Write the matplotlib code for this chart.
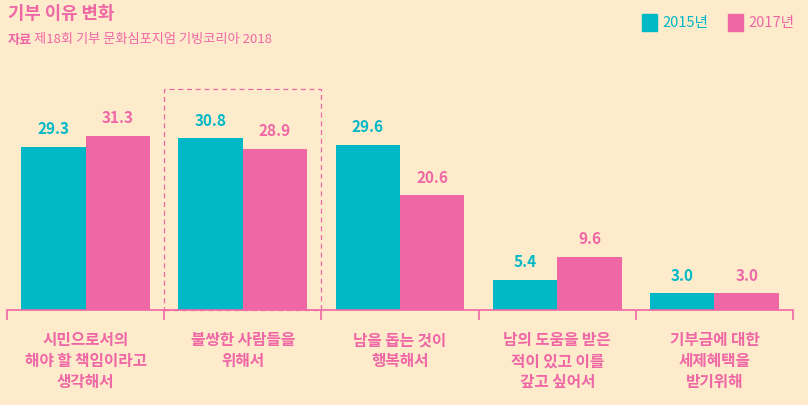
import matplotlib.pyplot as plt
import matplotlib.patches as mpatches
import numpy as np

plt.rcParams['font.family'] = ['Noto Sans CJK KR', 'DejaVu Sans']

# data
categories = ['시민으로서의\n해야 할 책임이라고\n생각해서',
              '불쌍한 사람들을\n위해서',
              '남을 돕는 것이\n행복해서',
              '남의 도움을 받은\n적이 있고 이를\n갚고 싶어서',
              '기부금에 대한\n세제혜택을\n받기위해']
series_names = ['2015년', '2017년']
vals_2015 = [29.3, 30.8, 29.6, 5.4, 3.0]
vals_2017 = [31.3, 28.9, 20.6, 9.6, 3.0]

bg = '#FDEBCB'
teal = '#00B8C6'
pink = '#F067A6'

fig = plt.figure(figsize=(8.08, 4.05), dpi=100, facecolor=bg)
ax = fig.add_axes([7 / 808, 95 / 405, 786 / 808, 250.6 / 405])
ax.set_facecolor(bg)

x = np.arange(len(categories))
w = 0.41
b1 = ax.bar(x - w / 2, vals_2015, w, color=teal)
b2 = ax.bar(x + w / 2, vals_2017, w, color=pink)

for bars, vals, c in [(b1, vals_2015, teal), (b2, vals_2017, pink)]:
    for r, v in zip(bars, vals):
        ax.annotate(f'{v:.1f}', (r.get_x() + r.get_width() / 2, v),
                    xytext=(0, 7), textcoords='offset points',
                    ha='center', va='bottom', color=c,
                    fontsize=11, fontweight='bold')

ax.set_xlim(-0.5, len(categories) - 0.5)
ax.set_ylim(0, 45)
for s in ['top', 'right', 'left']:
    ax.spines[s].set_visible(False)
ax.spines['bottom'].set_color(pink)
ax.spines['bottom'].set_linewidth(1.2)
ax.set_yticks([])

# boundary ticks under the axis
bounds = np.arange(len(categories) + 1) - 0.5
ax.set_xticks(bounds)
ax.set_xticklabels([])
ax.tick_params(axis='x', color=pink, length=7, width=1.2)

for i, lab in enumerate(categories):
    ax.text(i, -4.0, lab, ha='center', va='top', color=pink,
            fontsize=11.3, fontweight='bold', linespacing=1.38)

# dashed highlight box
ax.add_patch(mpatches.Rectangle((0.5, 0), 1, 39.7, fill=False,
                                edgecolor=pink, linestyle=(0, (4, 3)),
                                linewidth=0.9, clip_on=False))

# title + source
fig.text(8 / 808, 1 - 14 / 405, '기부 이유 변화', color=pink, fontsize=12.8,
         fontweight='bold', va='center', ha='left')
fig.text(8 / 808, 1 - 40 / 405, '자료', color=pink, fontsize=9.5,
         fontweight='bold', va='center', ha='left')
fig.text(34 / 808, 1 - 40 / 405, '제18회 기부 문화심포지엄 기빙코리아 2018',
         color=pink, fontsize=9.5, va='center', ha='left')

# legend
for name, c, x0 in [(series_names[0], teal, 642), (series_names[1], pink, 728)]:
    fig.patches.append(mpatches.Rectangle((x0 / 808, 1 - 31 / 405), 15 / 808, 17 / 405,
                                          transform=fig.transFigure, color=c))
    fig.text((x0 + 20) / 808, 1 - 23 / 405, name, color=c, fontsize=10.5,
             va='center', ha='left')

fig.savefig('out.png', dpi=100, facecolor=bg)
